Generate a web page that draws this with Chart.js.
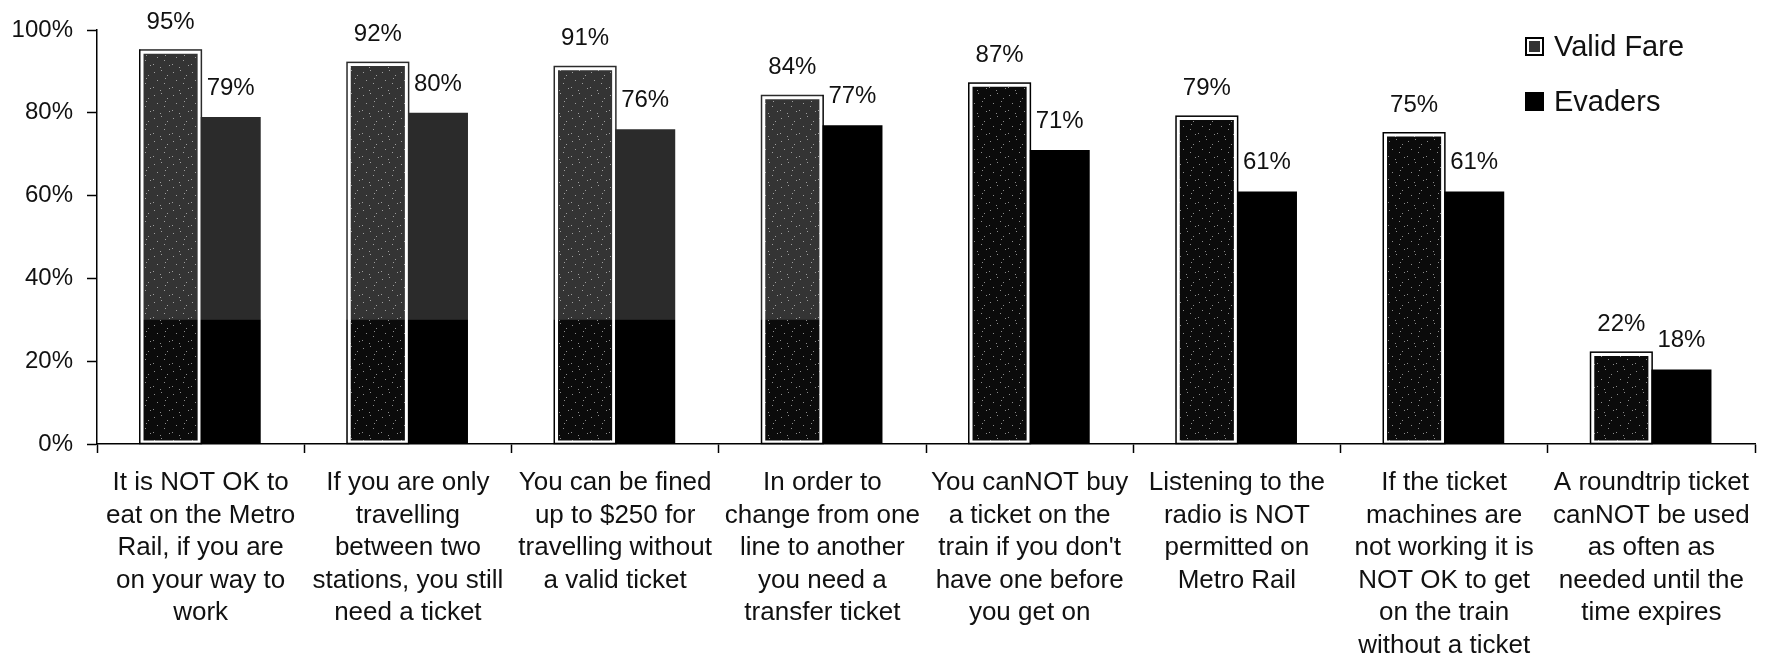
<!DOCTYPE html>
<html>
<head>
<meta charset="utf-8">
<script src="https://cdn.jsdelivr.net/npm/chart.js@4/dist/chart.umd.min.js"></script>
<style>
  html, body { margin: 0; padding: 0; background: #fff; }
  #wrap { width: 1769px; height: 660px; position: relative; }
</style>
</head>
<body>
<div id="wrap"><canvas id="knowChart"></canvas></div>
<script>
const categories = [
  ['It is NOT OK to', 'eat on the Metro', 'Rail, if you are', 'on your way to', 'work'],
  ['If you are only', 'travelling', 'between two', 'stations, you still', 'need a ticket'],
  ['You can be fined', 'up to $250 for', 'travelling without', 'a valid ticket'],
  ['In order to', 'change from one', 'line to another', 'you need a', 'transfer ticket'],
  ['You canNOT buy', 'a ticket on the', "train if you don't", 'have one before', 'you get on'],
  ['Listening to the', 'radio is NOT', 'permitted on', 'Metro Rail'],
  ['If the ticket', 'machines are', 'not working it is', 'NOT OK to get', 'on the train', 'without a ticket'],
  ['A roundtrip ticket', 'canNOT be used', 'as often as', 'needed until the', 'time expires']
];
const validFare = [95, 92, 91, 84, 87, 79, 75, 22];
const evaders = [79, 80, 76, 77, 71, 61, 61, 18];
const yTicks = [0, 20, 40, 60, 80, 100];

const FONT = "'Liberation Sans', Arial, Helvetica, sans-serif";

// dark fill with a sprinkle of light dots
function speckle() {
  const c = document.createElement('canvas');
  c.width = 19; c.height = 23;
  const g = c.getContext('2d');
  g.fillStyle = '#0b0b0b';
  g.fillRect(0, 0, c.width, c.height);
  g.fillStyle = '#8c8c8c';
  [[2,3],[9,1],[15,6],[5,11],[12,14],[1,18],[17,19],[8,21],[13,9]].forEach(([x, y]) => g.fillRect(x, y, 1, 1));
  return g.createPattern(c, 'repeat');
}
const validFill = speckle();

// black outline around the boxed bars
const barOutline = {
  id: 'barOutline',
  afterDatasetsDraw(chart) {
    const ctx = chart.ctx;
    ctx.save();
    ctx.strokeStyle = '#000';
    ctx.lineWidth = 1.5;
    chart.getDatasetMeta(0).data.forEach(b => {
      ctx.strokeRect(b.x - b.width / 2 - 0.75, b.y - 0.75, b.width + 1.5, b.base - b.y + 0.75);
    });
    ctx.restore();
  }
};

// lighter band over the upper part of the first four groups
const fadeBand = {
  id: 'fadeBand',
  afterDatasetsDraw(chart) {
    const ctx = chart.ctx, y = chart.scales.y;
    const v = chart.getDatasetMeta(0).data;
    const left = v[0].x - v[0].width / 2;
    const right = v[3].x + v[3].width / 2;
    const top = y.getPixelForValue(100), bottom = y.getPixelForValue(30);
    ctx.save();
    ctx.fillStyle = 'rgba(255,255,255,0.17)';
    ctx.fillRect(left, top, right - left, bottom - top);
    ctx.restore();
  }
};

// percentage above each bar
const valueLabels = {
  id: 'valueLabels',
  afterDatasetsDraw(chart) {
    const ctx = chart.ctx;
    ctx.save();
    ctx.font = '24px ' + FONT;
    ctx.fillStyle = '#111';
    ctx.textAlign = 'center';
    ctx.textBaseline = 'alphabetic';
    chart.data.datasets.forEach((ds, i) => {
      chart.getDatasetMeta(i).data.forEach((b, j) => {
        ctx.fillText(ds.data[j] + '%', b.x, b.y - 22);
      });
    });
    ctx.restore();
  }
};

// legend in the top right corner of the plot
const cornerLegend = {
  id: 'cornerLegend',
  afterDraw(chart) {
    const ctx = chart.ctx, area = chart.chartArea;
    const x0 = area.right - 230;
    ctx.save();
    ctx.font = '29px ' + FONT;
    ctx.textBaseline = 'middle';
    chart.data.datasets.forEach((ds, i) => {
      const cy = area.top + 17 + i * 55;
      ctx.fillStyle = '#000';
      ctx.fillRect(x0, cy - 10, 19, 19);
      if (i === 0) {
        ctx.fillStyle = '#fff';
        ctx.fillRect(x0 + 2, cy - 8, 15, 15);
        ctx.fillStyle = '#333';
        ctx.fillRect(x0 + 4, cy - 6, 11, 11);
      }
      ctx.fillStyle = '#111';
      ctx.fillText(ds.label, x0 + 29, cy + 1);
    });
    ctx.restore();
  }
};

new Chart(document.getElementById('knowChart'), {
  type: 'bar',
  data: {
    labels: categories,
    datasets: [
      { label: 'Valid Fare', data: validFare, backgroundColor: validFill, borderColor: '#fff', borderWidth: 3, borderSkipped: false },
      { label: 'Evaders', data: evaders, backgroundColor: '#000', borderWidth: 0 }
    ]
  },
  options: {
    responsive: true,
    maintainAspectRatio: false,
    animation: false,
    events: [],
    layout: { padding: { top: 30, right: 14, left: 0, bottom: 0 } },
    datasets: { bar: { categoryPercentage: 0.58, barPercentage: 1.0 } },
    plugins: { legend: { display: false }, tooltip: { enabled: false } },
    scales: {
      x: {
        afterFit: s => { s.height = 216; },
        border: { color: '#000', width: 1.5 },
        grid: { offset: true, drawOnChartArea: false, drawTicks: true, tickLength: 9, color: '#000', tickWidth: 1.5 },
        ticks: {
          color: '#111', padding: 14, maxRotation: 0, autoSkip: false,
          font: { family: FONT, size: 26, lineHeight: 1.25 }
        }
      },
      y: {
        min: 0, max: 100,
        afterFit: s => { s.width = 97; },
        afterBuildTicks: s => { s.ticks = yTicks.map(v => ({ value: v })); },
        border: { color: '#000', width: 1.5 },
        grid: { drawOnChartArea: false, drawTicks: true, tickLength: 10, color: '#000', tickWidth: 1.5 },
        ticks: {
          color: '#111', padding: 14,
          font: { family: FONT, size: 24 },
          callback: v => v + '%'
        }
      }
    }
  },
  plugins: [barOutline, fadeBand, valueLabels, cornerLegend]
});
</script>
</body>
</html>
